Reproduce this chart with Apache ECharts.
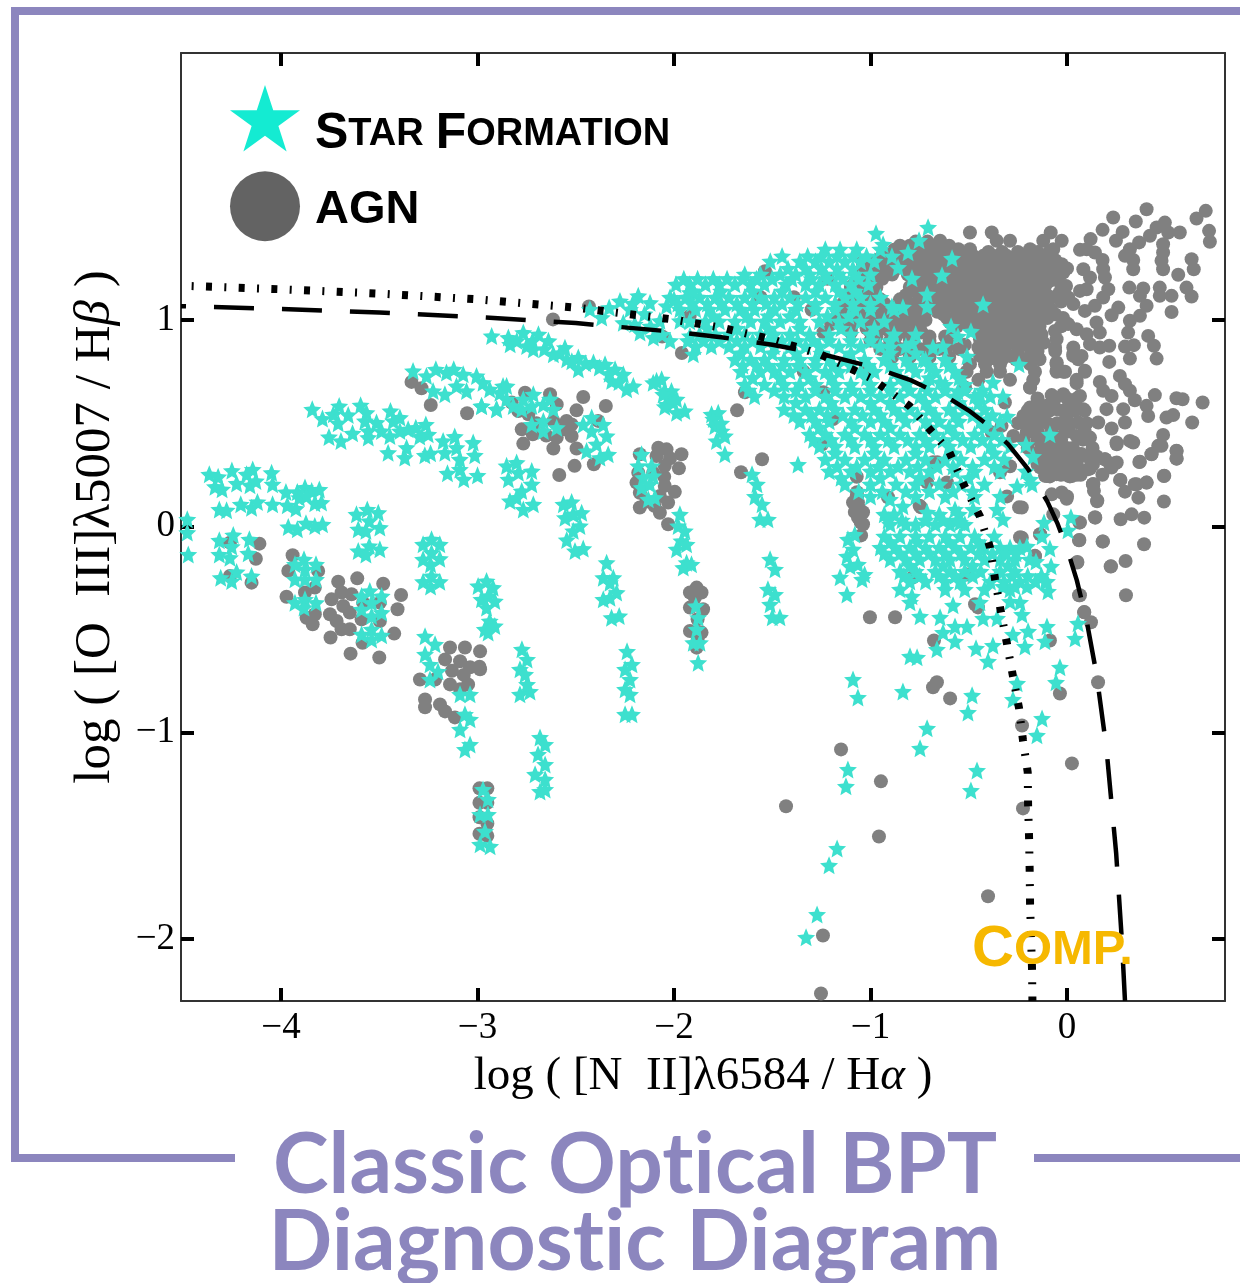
<!DOCTYPE html>
<html><head><meta charset="utf-8">
<style>html,body{margin:0;padding:0;background:#fff}#c{width:1240px;height:1283px}</style>
<script src="https://cdn.jsdelivr.net/npm/echarts@6/dist/echarts.min.js"></script>
</head><body><div id="c"></div>
<script>
const xTicks=[-4,-3,-2,-1,0];
const yTicks=[-2,-1,0,1];
const titleLines=['Classic Optical BPT','Diagnostic Diagram'];

// AGN: individual points, [log NII/Ha, log OIII/Hb]
const agnLowLeft=[[-4.11,-.084],[-4.128,-.157],[-4.15,-.273],[-4.26,-.079],[-4.26,-.241],[-3.941,-.14],[-3.963,-.216],[-3.972,-.341],[-3.811,-.216],[-3.828,-.297],[-3.87,-.443],[-3.828,-.426],[-3.839,-.475],[-3.878,-.321],[-3.709,-.268],[-3.612,-.252],[-3.48,-.278],[-3.389,-.333],[-3.407,-.402],[-3.743,-.354],[-3.692,-.321],[-3.641,-.329],[-3.683,-.386],[-3.65,-.418],[-3.751,-.426],[-3.717,-.459],[-3.692,-.499],[-3.65,-.499],[-3.59,-.451],[-3.497,-.459],[-3.424,-.52],[-3.748,-.539],[-3.585,-.564],[-3.646,-.617],[-3.5,-.636],[-3.582,-.37],[-3.497,-.37],
[-3.14,-.587],[-3.064,-.587],[-2.987,-.606],[-3.165,-.645],[-3.089,-.654],[-3.038,-.683],[-2.987,-.693],[-3.267,-.839],[-3.267,-.877],[-3.191,-.863],[-3.165,-.897],[-3.115,-.926],[-3.048,-.766],[-3.14,-.766],[-3.089,-.79],[-3.216,-.742],[-3.293,-.742],[-2.99,-.68],[-3.07,-.72],[-3.13,-.7],
[-2.99,-1.27],[-2.95,-1.27],[-2.99,-1.34],[-2.95,-1.34],[-2.99,-1.41],[-2.95,-1.44],[-2.99,-1.49],[-2.95,-1.5]];
const agnFanTop=[[-3.336,.7],[-3.285,.669],[-3.238,.588],[-3.053,.548],[-2.616,1.003],[-2.433,1.066],
[-2.758,.648],[-2.631,.64],[-2.462,.627],[-2.347,.583],[-2.496,.562],[-2.597,.591],[-2.826,.6],[-2.775,.47],[-2.719,.446],[-2.767,.401],[-2.614,.377],[-2.597,.43],[-2.521,.438],[-2.496,.377],[-2.506,.293],[-2.584,.249],[-2.408,.301],[-2.547,.511],[-2.792,.559],[-2.741,.543],[-2.614,.511],[-2.521,.494],[-2.386,.511],[-2.56,.47],[-2.65,.44],[-2.7,.5],
[-2.08,.381],[-2.038,.373],[-1.962,.349],[-1.975,.281],[-2.047,.293],[-2.089,.341],[-2.174,.349],[-2.182,.26],[-2.191,.212],[-2.174,.163],[-2.174,.091],[-2.072,.066],[-2.03,.115],[-1.996,.167],[-2.047,.196],[-2.072,.147],[-2.03,.01],[-2.106,.26],[-2.02,.33],[-2.05,.24],[-2.1,.1],[-2.14,.12],
[-1.885,-.297],[-1.919,-.321],[-1.86,-.321],[-1.894,-.346],[-1.919,-.394],[-1.852,-.402],[-1.919,-.507],[-1.86,-.515],[-1.885,-.588],[-1.88,-.45],[-1.88,-.55],
[-1.639,.65],[-1.679,.562],[-1.552,.325],[-1.659,.262],[-1.247,.397]];
const agnColumnMid=[[-1.064,.116],[-1.089,.116],[-1.038,.068],[-1.064,.044],[-1.038,.01],[-1.048,-.044],[-1.069,.165],[-1.08,.07],[-1.06,.09],[-1.05,.02],[-1.07,.14]];
const agnSparseLow=[[-1.003,-.441],[-.875,-.441],[-.677,-.553],[-.682,-.78],[-.662,-.756],[-.595,-.834],[-.036,-.81],[.158,-.756],[-.229,-.965],[-1.15,-1.081],[-.468,-.378],[-.453,-.393],[-.509,-.233],[-.163,-.145],[-.239,-.053],[-.244,.092],[-.743,.092],[-.911,.141],[-.784,-.247],[-.137,-.039],[-.087,-.553],[.066,.019],[.142,.044],[.061,-.068],[.183,-.073],[.051,-.175],[.224,-.194],[.061,-.334],[.087,-.417],[.122,-.465],
[-.947,-1.236],[-1.43,-1.357],[-.957,-1.503],[-.224,-1.367],[.025,-1.149],[-.402,-1.793],[-1.242,-1.983],[-1.252,-2.264]];
const agnRight=[[.405,1.537],[.235,1.497],[.35,1.477],[.181,1.437],[.283,1.427],[.249,1.384],[.12,1.392],[.066,1.34],[.1,1.343],[.142,1.327],[.181,1.291],[.706,1.529],[.659,1.492],[.498,1.472],[.456,1.448],[.422,1.408],[.515,1.424],[.574,1.424],[.723,1.432],[.727,1.379],[.367,1.376],[.32,1.343],[.295,1.311],[.337,1.291],[.337,1.246],[.489,1.367],[.489,1.327],[.481,1.287],[.489,1.246],[.634,1.295],[.645,1.246],[.566,1.219],[.317,1.157],[.388,1.153],[.472,1.157],[.371,1.117],[.472,1.117],[.532,1.117],[.608,1.157],[.634,1.114],[.405,1.069],[.371,1.02],[.32,.996],[.532,1.039],[.311,.939],[.413,.923],[.442,.875],[.456,.813],[.34,.878],[.295,.871],[.32,.813],[.215,.797],[.215,.875],[.167,.867],[.117,.883],[.167,.939],[.15,.988],[.1,.931],[.049,.955],[.006,.98],[.142,1.069],[.091,1.044],[.032,1.077],[.006,1.109],[.261,1.06],[.227,1.023],[.21,1.149],[.184,1.109],[.193,1.206],[.184,1.246],[.117,1.206],[.083,1.246],[.1,1.149],[.066,1.141],[-.005,1.165]];
const agnLowerRight=[[.167,.7],[.184,.657],[.269,.729],[.295,.689],[.32,.657],[.345,.611],[.227,.632],[.201,.568],[.066,.632],[.032,.584],[-.019,.64],[-.078,.636],[-.104,.584],[-.188,.576],[-.222,.535],[-.231,.503],[-.273,.438],[-.172,.519],[-.121,.519],[-.053,.568],[-.002,.535],[-.019,.487],[-.036,.43],[.083,.568],[.057,.503],[.049,.438],[.117,.43],[.159,.503],[.227,.474],[.252,.406],[.32,.414],[.286,.568],[.295,.503],[.405,.584],[.413,.535],[.447,.636],[.557,.621],[.588,.616],[.69,.6],[.506,.527],[.54,.539],[.637,.503],[.489,.443],[.464,.39],[.43,.35],[.557,.366],[.557,.329],[.371,.313],[.244,.306],[.193,.325],[.117,.28],[.074,.35],[.015,.358],[.007,.245],[-.053,.253],[-.112,.245],[-.104,.325],[-.138,.366],[-.205,.455],[-.188,.503],[.495,.245],[.405,.212],[.345,.204],[.272,.225],[.133,.204],[-.087,.398],[-.383,.455],[-.333,.487],[-.316,.6],[.032,.834],[.057,.81],[.091,.754],[-.053,.794],[-.053,.754],[-.01,.749],[.049,.694],[-.188,.673],
[.368,.312],[.43,.349],[.481,.39],[.558,.365],[.558,.328],[.193,.325],[.227,.285],[.253,.309],[.27,.225],[.354,.204],[.405,.212],[.493,.244],[.295,.168],[.363,.139],[.493,.12],[.134,.204],[.137,.172],[.154,.126],[.144,.042],[.273,.034],[.329,.058],[.393,.042],[.063,.018],[.063,-.066],[.181,-.074],[.392,-.087],[.053,-.173],[.222,-.195],[.298,-.168],[.066,-.334],[.3,-.334],[.088,-.415],[-.027,.164],[-.002,.134],[-.078,.155],[.108,.277],[.066,.349],[.015,.365],[.024,.244],[-.036,.252],[-.103,.244],[-.137,.325],[-.07,.341],[-.07,.277],[-.112,.309],[.007,.301],[.253,.398],[.337,.406],[.108,.422],[-.044,.398],[-.07,.058],[-.163,-.143],[-.23,-.055],[-.23,.091],[-.137,-.038],
[-.682,.31],[-.611,.213],[-.712,.213],[-.341,.262],[-.29,.291],[-.305,.145],[-.137,.286],[-.087,.242],[-.036,.3],[0,.145],[.132,.3],[.219,.3],[.015,.242],[.132,.204],[.153,.121]];
// AGN rows of the dense cloud: [y, x, x, x ...]
const agnCloudRows=[[1.424,-.494,-.383,-.083],[1.384,-.646,-.358,-.29,-.121,-.027],[1.343,-.553,-.494,-.188,-.07],[1.311,-.663,-.604,-.544,-.477,-.426,-.375,-.307,-.188,-.121],[1.27,-.663,-.595,-.528,-.468,-.409,-.333,-.248,-.155,-.095,-.027],[1.23,-.672,-.595,-.528,-.468,-.383,-.299,-.248,-.172,-.112,-.019],[1.19,-.663,-.587,-.519,-.443,-.366,-.29,-.239,-.155,-.087],[1.149,-.646,-.57,-.502,-.426,-.341,-.273,-.205,-.138],[1.109,-.629,-.561,-.494,-.417,-.35,-.282,-.214,-.155,-.078],[1.069,-.595,-.528,-.46,-.392,-.324,-.256,-.188,-.121],[1.028,-.629,-.553,-.485,-.417,-.35,-.282,-.214,-.138,-.061],[.988,-.595,-.528,-.451,-.383,-.316,-.248,-.18],[.947,-.443,-.375,-.307,-.239,-.172,-.061],[.907,-.443,-.375,-.307,-.239,-.163,-.053],[.867,-.451,-.383,-.316,-.188,-.061,.032],[.826,-.443,-.366,-.29,-.188,.032,.074],[.786,-.494,-.417,-.341,-.188,-.053],[.749,-.511,-.409,-.341,-.163,-.053,-.019,.091],[.71,-.451,-.29,-.172,.049],[.673,-.519,-.188],
[1.38,-.77,-.71],[1.3,-.95,-.87,-.79,-.71,-.64],[1.22,-1.05,-.97,-.89,-.81,-.73],[1.14,-1.1,-1.0,-.78,-.72],[1.06,-1.15,-1.05,-.97,-.87,-.8,-.72],[.98,-1.2,-1.1,-1.0,-.91,-.84,-.77],[.9,-1.0,-.9,-.8,-.7],[.82,-.8,-.7,-.6]];
const agnCloudInfill=[[1.33,-.62,-.5,-.4,-.33,-.25,-.15,-.09],[1.29,-.63,-.56,-.5,-.44,-.37,-.29,-.21,-.16,-.06],[1.25,-.63,-.56,-.5,-.43,-.34,-.27,-.21,-.14,-.07,.0],[1.21,-.63,-.56,-.49,-.41,-.33,-.27,-.2,-.12,-.05],[1.17,-.62,-.55,-.47,-.4,-.32,-.26,-.18,-.11,-.03],[1.13,-.6,-.53,-.46,-.38,-.31,-.25,-.18,-.11,-.04],[1.09,-.6,-.53,-.45,-.37,-.31,-.24,-.17,-.1,-.03],[1.05,-.63,-.56,-.49,-.42,-.36,-.29,-.22,-.16,-.08],[1.01,-.61,-.52,-.45,-.38,-.32,-.25,-.18,-.1,-.02],[.97,-.56,-.49,-.41,-.34,-.28,-.21,-.14,-.03],[.93,-.41,-.34,-.27,-.2,-.13],[.89,-.41,-.34,-.27,-.22,-.12],[.85,-.41,-.33,-.25,-.15,-.06],[.81,-.4,-.33,-.26,-.2,-.14],
[1.34,-.88,-.82,-.74,-.68],[1.26,-1.0,-.93,-.85,-.77,-.69],[1.18,-1.08,-1.0,-.75,-.68],[1.1,-1.12,-1.03,-.95,-.85,-.75,-.68],[1.02,-1.17,-1.08,-1.0,-.92,-.83,-.75],[.94,-1.1,-1.0,-.9,-.82,-.74,-.58],[.86,-.95,-.85,-.75,-.65,-.55],
[.62,-.15,-.06,.0,.05],[.56,-.2,-.14,-.09,-.02,.04,.09],[.5,-.25,-.15,-.1,-.05,.0,.1],[.46,-.2,-.15,-.08,.01,.09],[.42,-.22,-.15,-.1,-.03,.08],[.38,-.2,-.1,-.05,.0,.03,.13],[.34,-.09,-.03,.04,.1,.15],[.3,-.15,-.1,-.02,.05],[.25,-.03,.05,.07,.18]];
const agnCloudWest=[[1.36,-.85,-.8,-.74,-.66,-.6],[1.32,-.92,-.86,-.78,-.72,-.66],[1.28,-1.0,-.9,-.83,-.75,-.69,-.63],[1.24,-1.03,-.96,-.88,-.8,-.73,-.67],[1.2,-1.02,-.94,-.78,-.7,-.64],[1.16,-1.1,-1.03,-.97,-.8,-.72,-.66],[1.12,-1.12,-1.05,-.98,-.82,-.74,-.67],[1.08,-1.14,-1.07,-1.0,-.93,-.84,-.77,-.7,-.64],[1.04,-1.1,-1.03,-.95,-.87,-.78,-.72,-.66],[1.0,-1.15,-1.05,-.97,-.88,-.8,-.72],[.96,-1.1,-1.02,-.93,-.85,-.75],[.92,-.97,-.87,-.78,-.7,-.62],[.88,-.88,-.78,-.7,-.6,-.52]];
const agnUnderStars=[[-1.537,1.236],[-1.22,1.2],[-1.04,1.28],[-1.39,1.11],[-1.3,1.05],[-1.24,.94],[-1.34,.75],[-1.24,.65],[-1.09,.99],[-1.05,1.03],[-1.92,1.02],[-2.06,.92],[-1.96,.84],[-1.56,1.11],[-1.07,.24],[-1.07,.145],[-.75,.1],[-.66,.31],[-1.19,.52],[-1.02,.75],[-.89,.82]];

// Star-forming: model fan clusters
const starFanA=[[-4.365,.252],[-4.32,.24],[-4.25,.27],[-4.144,.276],[-4.175,.252],[-4.048,.26],[-4.336,.192],[-4.3,.18],[-4.226,.208],[-4.158,.199],[-4.128,.22],[-4.043,.204],[-4.314,.082],[-4.277,.078],[-4.205,.107],[-4.15,.09],[-4.12,.118],[-4.043,.107],[-3.975,.166],[-3.968,.102],[-3.924,.086],[-3.917,.166],[-3.878,.188],[-3.844,.171],[-3.805,.179],[-3.907,.139],[-3.87,.147],[-3.828,.112],[-3.794,.115],[-3.963,-.003],[-3.917,-.014],[-3.873,.015],[-3.828,.002],[-3.789,.01],[-4.477,.034],[-4.477,-.03],[-4.472,-.136],[-4.314,-.068],[-4.243,-.042],[-4.161,-.063],[-4.251,-.098],[-4.314,-.136],[-4.26,-.152],[-4.167,-.131],[-4.307,-.249],[-4.251,-.265],[-4.226,-.221],[-4.15,-.241]];
const starFanB=[[-3.929,-.184],[-3.883,-.16],[-3.822,-.184],[-3.878,-.208],[-3.929,-.257],[-3.878,-.257],[-3.822,-.257],[-3.929,-.37],[-3.878,-.354],[-3.822,-.37],[-3.883,-.394],
[-3.616,.058],[-3.561,.082],[-3.505,.066],[-3.607,-.014],[-3.551,.026],[-3.497,-.006],[-3.568,-.022],[-3.607,-.119],[-3.551,-.095],[-3.497,-.111],[-3.568,-.136],
[-3.548,-.313],[-3.488,-.338],[-3.59,-.338],[-3.539,-.37],[-3.59,-.402],[-3.488,-.418],[-3.539,-.435],[-3.59,-.523],[-3.539,-.499],[-3.488,-.528],[-3.539,-.548],
[-3.277,-.087],[-3.234,-.063],[-3.192,-.087],[-3.277,-.16],[-3.234,-.128],[-3.192,-.157],[-3.239,-.184],[-3.277,-.268],[-3.234,-.241],[-3.192,-.268],[-3.239,-.292],
[-2.997,-.289],[-2.954,-.265],[-2.921,-.297],[-2.98,-.354],[-2.946,-.338],[-2.912,-.362],[-2.954,-.394],[-2.963,-.499],[-2.938,-.459],[-2.912,-.483],[-2.946,-.515]];
const starFanC=[[-3.841,.567],[-3.789,.522],[-3.734,.543],[-3.704,.583],[-3.658,.54],[-3.709,.5],[-3.756,.433],[-3.695,.414],[-3.636,.451],[-3.595,.587],[-3.565,.551],[-3.573,.511],[-3.514,.503],[-3.556,.462],[-3.556,.43],[-3.489,.462],[-3.446,.438],[-3.443,.559],[-3.395,.527],[-3.429,.511],[-3.395,.462],[-3.353,.47],[-3.314,.478],[-3.263,.494],[-3.251,.446],[-3.294,.435],[-3.455,.357],[-3.361,.381],[-3.37,.333],[-3.268,.344],[-3.239,.354],[-3.175,.414],[-3.116,.435],[-3.107,.381],[-3.166,.357],[-3.09,.325],[-3.022,.406],[-3.014,.344],[-3.09,.276],[-3.153,.257],[-3.07,.228],[-3.0,.247]];
const starBandTop=[[-3.328,.753],[-3.26,.729],[-3.212,.761],[-3.158,.745],[-3.121,.761],[-3.073,.737],[-3.226,.656],[-3.166,.64],[-3.107,.68],[-3.056,.656],[-3.005,.729],[-2.972,.696],[-2.98,.583],[-2.904,.567],[-2.938,.664],[-2.87,.68],[-2.853,.616],[-2.852,.68],[-2.886,.648],[-2.818,.583],[-2.902,.567],[-2.979,.583],[-2.767,.616],[-2.716,.64],[-2.775,.567],[-2.724,.583],[-2.665,.591],[-2.631,.616],[-2.614,.567],[-2.665,.511],[-2.724,.494],[-2.597,.478],[-2.665,.462],
[-2.419,.527],[-2.462,.494],[-2.36,.494],[-2.419,.462],[-2.343,.438],[-2.394,.398],[-2.445,.365],[-2.335,.349],[-2.377,.333]];
const starBandSecond=[[-2.928,.923],[-2.843,.915],[-2.834,.882],[-2.767,.939],[-2.75,.874],[-2.69,.931],[-2.716,.858],[-2.639,.899],[-2.614,.834],[-2.555,.866],[-2.546,.81],[-2.487,.818],[-2.487,.761],[-2.41,.794],[-2.351,.785],[-2.3,.761],[-2.258,.737],[-2.317,.705],[-2.241,.664],[-2.207,.68],[-2.8,.9],[-2.72,.9],[-2.66,.86],[-2.58,.84],[-2.52,.8],[-2.45,.79],[-2.38,.77],[-2.33,.74],[-2.28,.7]];
const starCloudLeft=[[-2.428,1.052],[-2.368,1.012],[-2.275,1.092],[-2.182,1.117],[-2.122,1.084],[-2.224,1.052],[-2.258,.987],[-2.173,.939],[-2.105,.915],[-2.072,.996],[-2.038,1.068],[-1.919,1.133],[-1.97,.996],[-1.919,.923],[-1.902,.834],[-2.33,1.06],[-2.21,1.08],[-2.15,1.03],[-2.2,.98],[-2.12,.97],[-2.06,.93],[-2.02,.9],[-2.0,1.1]];
const starFanD=[[-2.852,.293],[-2.801,.309],[-2.724,.268],[-2.843,.228],[-2.792,.26],[-2.724,.204],[-2.775,.171],[-2.835,.123],[-2.801,.139],[-2.767,.082],[-2.716,.107],
[-2.563,.107],[-2.521,.118],[-2.555,.042],[-2.513,.058],[-2.47,.066],[-2.479,.002],[-2.513,-.022],[-2.546,-.066],[-2.504,-.119],[-2.462,-.108],
[-2.343,-.176],[-2.36,-.249],[-2.309,-.249],[-2.326,-.273],[-2.36,-.354],[-2.326,-.346],[-2.292,-.321],[-2.318,-.443],[-2.279,-.434],
[-2.089,.705],[-2.063,.713],[-2.047,.656],[-2.021,.632],[-1.987,.616],[-2.038,.591],[-1.987,.551],[-1.945,.559],[-2.106,.696],[-2.013,.656],[-2.055,.64],[-2.004,.6],[-2.047,.58],
[-1.809,.543],[-1.775,.551],[-1.792,.486],[-1.758,.462],[-1.784,.414],[-1.741,.438],[-1.741,.349],[-1.8,.52],[-1.76,.5],
[-2.165,.349],[-2.182,.293],[-2.114,.293],[-2.157,.236],[-2.106,.244],[-2.165,.188],[-2.123,.204],[-2.097,.139],[-2.131,.131],
[-1.97,.058],[-1.979,.002],[-1.945,-.022],[-1.962,-.071],[-1.936,-.087],[-1.987,-.111],[-1.936,-.176],[-1.953,-.2],[-1.911,-.184],
[-1.889,-.386],[-1.877,-.443],[-1.885,-.499],[-1.868,-.564],[-1.902,-.564],[-1.877,-.661]];
const starFanE=[[-2.239,-.606],[-2.214,-.669],[-2.249,-.693],[-2.224,-.742],[-2.249,-.79],[-2.224,-.814],[-2.249,-.911],[-2.214,-.911],
[-3.267,-.533],[-3.216,-.572],[-3.267,-.62],[-3.242,-.742],[-3.201,-.703],[-3.242,-.669],
[-3.089,-.814],[-3.038,-.814],[-3.064,-.911],[-3.038,-.935],[-3.089,-.984],[-3.038,-1.057],[-3.064,-1.081],
[-2.972,-1.275],[-2.947,-1.323],[-2.987,-1.396],[-2.947,-1.396],[-2.962,-1.478],[-2.987,-1.541],[-2.936,-1.551],
[-2.774,-.596],[-2.748,-.645],[-2.784,-.693],[-2.758,-.717],[-2.733,-.8],[-2.784,-.814],[-2.748,-.766],
[-2.682,-1.023],[-2.656,-1.057],[-2.692,-1.105],[-2.656,-1.154],[-2.707,-1.202],[-2.656,-1.226],[-2.682,-1.285],[-2.656,-1.275],
[-1.511,-.16],[-1.486,-.208],[-1.522,-.305],[-1.486,-.33],[-1.511,-.378],[-1.461,-.441],[-1.5,-.441],
[-1.603,.252],[-1.578,.204],[-1.588,.145],[-1.552,.107],[-1.562,.034],[-1.522,.034],[-1.369,.3]];
// Star-forming: dense sequence, rows [y, x, x, x ...]
const starCloudRows=[[1.343,-1.23,-1.155,-1.07,-.95],[1.285,-1.51,-1.36,-1.28,-1.21,-1.13,-1.05,-.98],[1.222,-1.64,-1.56,-1.46,-1.38,-1.31,-1.23,-1.16,-1.08,-1.0],[1.173,-1.99,-1.92,-1.84,-1.77,-1.69,-1.61,-1.54,-1.43,-1.33,-1.26,-1.18,-1.1,-1.01],[1.11,-2.02,-1.94,-1.87,-1.79,-1.72,-1.64,-1.56,-1.49,-1.41,-1.33,-1.23,-1.13,-1.05,-.95],[1.052,-1.97,-1.89,-1.82,-1.74,-1.66,-1.59,-1.49,-1.38,-1.28,-1.18,-1.08,-1.0,-.88],[.994,-1.92,-1.84,-1.77,-1.69,-1.61,-1.54,-1.46,-1.36,-1.26,-1.16,-1.05,-.93],[.931,-1.87,-1.79,-1.72,-1.64,-1.56,-1.49,-1.41,-1.31,-1.21,-1.1,-1.0,-.88,-.77],[.873,-1.89,-1.81,-1.72,-1.64,-1.56,-1.49,-1.41,-1.33,-1.26,-1.16,-1.05,-.95,-.82],[.809,-1.69,-1.61,-1.54,-1.44,-1.36,-1.28,-1.21,-1.13,-1.03,-.93,-.82,-.72,-.62],[.751,-1.66,-1.56,-1.49,-1.41,-1.33,-1.23,-1.16,-1.05,-.98,-.87,-.77,-.67,-.57],[.688,-1.64,-1.54,-1.44,-1.36,-1.28,-1.18,-1.1,-1.0,-.9,-.82,-.72,-.62,-.52],[.63,-1.59,-1.44,-1.33,-1.23,-1.13,-1.05,-.95,-.85,-.75,-.67,-.57,-.47,-.39],[.567,-1.44,-1.33,-1.26,-1.18,-1.08,-.98,-.88,-.8,-.7,-.6,-.52,-.42],[.509,-1.36,-1.28,-1.21,-1.1,-1.0,-.93,-.82,-.72,-.65,-.55,-.44,-.34],[.446,-1.31,-1.23,-1.13,-1.03,-.95,-.85,-.75,-.67,-.57,-.47,-.37],[.388,-1.26,-1.18,-1.08,-.98,-.88,-.77,-.7,-.6,-.49,-.39,-.29],[.325,-1.23,-1.13,-1.03,-.93,-.82,-.72,-.62,-.54,-.42,-.32],[.267,-1.21,-1.1,-1.0,-.9,-.8,-.7,-.57,-.47,-.34,-.21],[.204,-1.13,-1.0,-.87,-.77,-.65,-.54,-.42],[.145,-1.0,-.77,-.62,-.47,-.34],
[.058,-.93,-.88,-.65,-.55],[.01,-.9,-.82,-.77,-.67,-.595,-.52],[-.048,-.93,-.85,-.77,-.7,-.62,-.545,-.47,-.37],[-.102,-.95,-.875,-.8,-.72,-.65,-.57,-.49,-.42,-.34,-.29,-.24],[-.16,-.9,-.82,-.75,-.67,-.595,-.52,-.42,-.34,-.265,-.19],[-.218,-.85,-.77,-.67,-.595,-.52,-.44,-.34,-.265],[-.267,-.8,-.72,-.62,-.545,-.39,-.32,-.24,-.16,-.11],[-.305,-.62,-.52,-.42,-.29]];
const starCloudInfill=[[1.25,-1.42,-1.33,-1.25,-1.17,-1.09],[1.14,-1.9,-1.76,-1.6,-1.45,-1.28,-1.16,-1.08],[1.02,-1.8,-1.63,-1.52,-1.41,-1.22,-1.11],[.96,-1.83,-1.68,-1.52,-1.36,-1.15,-.98],[.84,-1.66,-1.5,-1.38,-1.25,-1.1,-.9,-.77],[.72,-1.6,-1.46,-1.31,-1.2,-1.02,-.85,-.7,-.55],[.6,-1.38,-1.2,-1.0,-.9,-.72,-.55,-.45],[.48,-1.26,-1.08,-.9,-.7,-.6,-.42],[.355,-1.18,-.98,-.77,-.58,-.37],[.235,-1.15,-.95,-.75,-.5],[-.075,-.9,-.76,-.6,-.45],[-.19,-.8,-.63,-.48,-.3]];
const starCloudStagger=[[1.31,-1.45,-1.32,-1.25,-1.17,-1.09,-1.02],[1.2,-1.95,-1.88,-1.8,-1.73,-1.65,-1.58,-1.5,-1.4,-1.3,-1.22,-1.14,-1.06],[1.08,-1.98,-1.91,-1.83,-1.76,-1.68,-1.6,-1.53,-1.45,-1.37,-1.28,-1.18,-1.09,-1.0],[.9,-1.93,-1.85,-1.77,-1.68,-1.6,-1.52,-1.45,-1.37,-1.29,-1.21,-1.1,-1.0,-.9],[.78,-1.65,-1.58,-1.52,-1.45,-1.37,-1.28,-1.19,-1.1,-1.01,-.9,-.8,-.7,-.6],[.66,-1.62,-1.49,-1.38,-1.28,-1.18,-1.09,-1.0,-.9,-.8,-.71,-.62,-.52,-.43],[.54,-1.39,-1.3,-1.22,-1.14,-1.04,-.95,-.85,-.76,-.67,-.57,-.48,-.38],[.42,-1.29,-1.2,-1.1,-1.0,-.91,-.81,-.72,-.63,-.53,-.43,-.33],[.29,-1.17,-1.07,-.96,-.86,-.76,-.66,-.58,-.48,-.37],[.17,-1.06,-.94,-.82,-.7,-.58,-.48],[.03,-.91,-.84,-.72,-.63,-.56],[-.13,-.93,-.85,-.77,-.7,-.62,-.54,-.45,-.38,-.31,-.26],[-.24,-.83,-.75,-.65,-.57,-.48,-.36,-.28,-.2,-.13]];
const starOnAgn=[[-.707,1.449],[-.972,1.42],[-.936,1.367],[-.753,1.386],[-.809,1.328],[-.891,1.309],[-.86,1.255],[-.585,1.299],[-.789,1.202],[-.636,1.217],[-.712,1.125],[-.712,1.066],[-.427,1.076],[-.891,1.066],[-.835,1.062],[-.59,.969],[-.555,.921],[-.489,.945],[-.789,.887],[-.901,.868],[-.682,.868],[-.631,.873],[-.509,.824],[-.244,.785],[-.621,.809],[-.733,.809],[-.646,.698],[-.377,.698],[-.555,.654],[-.443,.64],[-.305,.533],[-.407,.519],[-.326,.63],[-.087,.446],[-.209,.397],[-.173,.339],[-.188,.228],[-.254,.194]];
const starLowSide=[[-1.115,-.063],[-1.089,-.111],[-1.12,-.145],[-1.064,-.184],[-1.104,-.194],[-1.155,-.247],[-1.043,-.257],[-1.12,-.33],[-1.08,-.04],[-1.03,-.233]];
const starSparse=[[-.85,-.305],[-.789,-.339],[-.799,-.368],[-.58,-.383],[-.443,-.368],[-.748,-.436],[-.646,-.441],[-.57,-.485],[-.509,-.485],[-.631,-.514],[-.57,-.557],[-.662,-.596],[-.463,-.591],[-.377,-.577],[-.402,-.654],[-.799,-.63],[-.763,-.635],[-.427,-.446],[-.356,-.446],[-.275,-.524],[-.198,-.509],[-.102,-.485],[-.112,-.557],[-.214,-.582],[.041,-.543],[.056,-.47],[-.036,-.683],[-.056,-.756],[-.254,-.761],[-.275,-.839],[-.127,-.931],[-.153,-1.013],[-.483,-.819],[-.504,-.902],[-.712,-.979],[-.748,-1.076],[-.835,-.8],[-1.089,-.742],[-1.064,-.829],[-.29,-.364],[-.239,-.368],[-.229,-.427],[-.326,-.291],[-.265,-.291],[-.204,-.291],[-.097,-.315],[-.102,-.267],[-.081,-.194],[-.087,-.107],[-.158,-.17],[-.204,-.097],[-.127,-.048],[-.117,.019],[.005,-.019],[.02,.044],[-.326,.034],[-.356,.082],[-.545,.019],[-.57,.082],[-.478,.082],[-.712,.068],[-.901,.131],[-.835,.097],[-.178,.204],
[-1.115,-1.178],[-1.125,-1.26],[-1.17,-1.561],[-1.211,-1.643],[-1.272,-1.881],[-1.328,-1.992],[-.458,-1.183],[-.489,-1.28]];

// Demarcation curves
const maxStarburstCurve=[[-4.509,1.067],[-4,1.054],[-3.5,1.036],[-3,1.014],[-2.5,.985],[-2,.943],[-1.75,.915],[-1.5,.88],[-1.25,.835],[-1,.775],[-.8,.71],[-.6,.62],[-.5,.561],[-.4,.489],[-.3,.398],[-.2,.28],[-.1,.12],[-.05,.017],[0,-.108],[.05,-.262],[.1,-.458],[.15,-.716],[.2,-1.07],[.25,-1.583],[.28,-2.02],[.295,-2.3]];
const empiricalCurve=[[-4.509,1.166],[-4,1.149],[-3.5,1.128],[-3,1.1],[-2.5,1.06],[-2,1.002],[-1.75,.961],[-1.5,.906],[-1.25,.831],[-1,.719],[-.8,.582],[-.6,.362],[-.519,.189],[-.443,.048],[-.392,-.102],[-.366,-.257],[-.336,-.417],[-.305,-.572],[-.275,-.727],[-.244,-.882],[-.224,-1.037],[-.2,-1.192],[-.198,-1.352],[-.193,-1.512],[-.19,-1.672],[-.188,-1.832],[-.183,-1.987],[-.178,-2.147],[-.176,-2.3]];

// Lato would otherwise join "ti" into a ligature the reference does not have
const nativeGetContext=HTMLCanvasElement.prototype.getContext;
HTMLCanvasElement.prototype.getContext=function(){const ctx=nativeGetContext.apply(this,arguments);if(ctx&&'textRendering' in ctx)ctx.textRendering='optimizeSpeed';return ctx;};

const fromRows=rows=>rows.flatMap(r=>r.slice(1).map(x=>[x,r[0]]));
const agnData=[...agnLowLeft,...agnFanTop,...agnColumnMid,...agnSparseLow,...agnRight,...agnLowerRight,...fromRows(agnCloudRows),...fromRows(agnCloudInfill),...fromRows(agnCloudWest),...agnUnderStars];
const starData=[...starFanA,...starFanB,...starFanC,...starBandTop,...starBandSecond,...starCloudLeft,...starFanD,...starFanE,...fromRows(starCloudRows),...fromRows(starCloudInfill),...fromRows(starCloudStagger),...starOnAgn,...starLowSide,...starSparse];

const LEGEND_STAR='path://M50 2 L61.2 36.5 L97.6 36.5 L68.2 57.9 L79.4 92.4 L50 71 L20.6 92.4 L31.8 57.9 L2.4 36.5 L38.8 36.5 Z';
const MARK_STAR='path://M50 2 L62.9 32.2 L95.7 35.2 L70.9 56.8 L78.2 88.8 L50 72 L21.8 88.8 L29.1 56.8 L4.3 35.2 L37.1 32.2 Z';
const PURPLE='#8C86BE';
const SERIF='"Liberation Serif","Times New Roman",serif';
const SANS='"Liberation Sans",Arial,sans-serif';
const fmt=v=>v<0?'\u2212'+(-v):String(v);
const nameStyle=s=>({fontFamily:SERIF,fontSize:s,color:'#000',rich:{i:{fontFamily:SERIF,fontSize:s,fontStyle:'italic',color:'#000'}}});
const baseAxis=(ticks)=>({type:'value',splitLine:{show:false},
  axisLine:{show:true,onZero:false,lineStyle:{color:'#333',width:2}},
  axisTick:{show:true,inside:true,length:13,customValues:ticks,lineStyle:{color:'#000',width:4}}});
const xRange={min:-4.509,max:.804}, yRange={min:-2.3005,max:2.294};
const boldSans=(size,pad)=>({fontFamily:SANS,fontWeight:'bold',fontSize:size,color:'#000',padding:pad});

const chart=echarts.init(document.getElementById('c'),null,{renderer:'canvas'});
chart.setOption({
  animation:false,
  backgroundColor:'#fff',
  title:{text:titleLines.join('\n'),left:630,top:1122,textAlign:'center',
    textStyle:{fontFamily:'Lato',fontSize:84,fontWeight:'bold',color:PURPLE,lineHeight:77}},
  grid:{left:181,right:15,top:53,bottom:282,containLabel:false},
  legend:{left:230,top:85,padding:0,orient:'vertical',itemWidth:70,itemHeight:70,itemGap:12,selectedMode:false,
    data:[{name:'Star Formation',icon:LEGEND_STAR,itemStyle:{color:'#14EBD2',opacity:1}},{name:'AGN',icon:'circle',itemStyle:{color:'#636363',opacity:1}}],
    formatter:n=>n==='AGN'?'{a|AGN}':'{f|S}{s|TAR}{g| }{b|F}{s|ORMATION}',
    textStyle:{rich:{a:boldSans(47,[8,0,0,10]),f:boldSans(50,[32,0,0,10]),b:boldSans(50,[32,0,0,0]),s:boldSans(38,[32,0,0,0]),g:{width:12,fontSize:38}}}},
  xAxis:[
    {...baseAxis(xTicks),...xRange,position:'bottom',name:'log ( [N  II]\u03BB6584 / H{i|\u03B1} )',nameLocation:'middle',nameGap:52,nameTextStyle:nameStyle(47),
     axisLabel:{customValues:xTicks,formatter:fmt,fontFamily:SERIF,fontSize:37,color:'#000',margin:9}},
    {...baseAxis(xTicks),...xRange,position:'top',axisLabel:{show:false}}],
  yAxis:[
    {...baseAxis(yTicks),...yRange,position:'left',name:'log ( [O  III]\u03BB5007 / H{i|\u03B2} )',nameLocation:'middle',nameGap:60,nameTextStyle:nameStyle(51),
     axisLabel:{customValues:yTicks,formatter:fmt,fontFamily:SERIF,fontSize:37,color:'#000',margin:6}},
    {...baseAxis(yTicks),...yRange,position:'right',axisLabel:{show:false}}],
  series:[
    {name:'AGN',type:'scatter',data:agnData,symbol:'circle',symbolSize:14,itemStyle:{color:'#808080',opacity:1},z:2,silent:true},
    {name:'Star Formation',type:'scatter',data:starData,symbol:MARK_STAR,symbolSize:18,itemStyle:{color:'#3DE0CE',opacity:1},z:3,silent:true},
    {name:'Maximum starburst',type:'line',data:maxStarburstCurve,showSymbol:false,symbol:'none',smooth:false,z:4,silent:true,
     lineStyle:{color:'#000',width:4.5,type:[40,28],dashOffset:35,cap:'butt'}},
    {name:'Empirical',type:'line',data:empiricalCurve,showSymbol:false,symbol:'none',smooth:false,z:4,silent:true,
     lineStyle:{color:'#000',width:8,type:[6,12.35,2,12.35],dashOffset:7.7,cap:'butt'}}
  ],
  graphic:[
    {type:'rect',z:1,silent:true,shape:{x:11,y:7,width:1229,height:8},style:{fill:PURPLE}},
    {type:'rect',z:1,silent:true,shape:{x:11,y:7,width:8,height:1155},style:{fill:PURPLE}},
    {type:'rect',z:1,silent:true,shape:{x:11,y:1154,width:224,height:8},style:{fill:PURPLE}},
    {type:'rect',z:1,silent:true,shape:{x:1034,y:1154,width:206,height:8},style:{fill:PURPLE}},
    {type:'text',z:100,silent:true,left:972,top:921,style:{text:'{c|C}{d|OMP.}',rich:{
      c:{fontFamily:SANS,fontWeight:'bold',fontSize:58,fill:'#F6B800'},
      d:{fontFamily:SANS,fontWeight:'bold',fontSize:49,fill:'#F6B800'}}}}
  ]
});
</script></body></html>
